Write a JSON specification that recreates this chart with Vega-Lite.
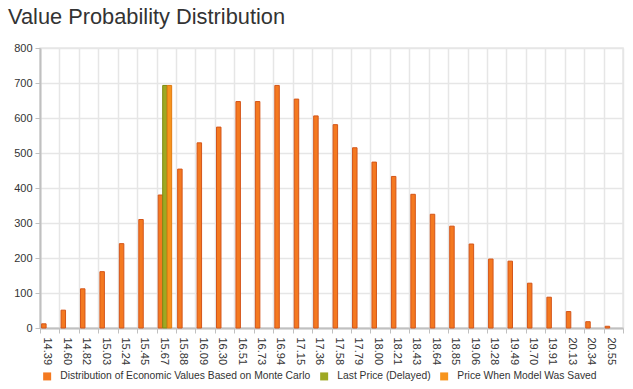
{
  "$schema": "https://vega.github.io/schema/vega-lite/v6.json",
  "autosize": {"type": "none"},
  "width": 583,
  "height": 280,
  "padding": {"left": 40, "top": 48, "right": 10, "bottom": 61},
  "background": "white",
  "title": {
    "text": "Value Probability Distribution",
    "anchor": "start",
    "frame": "group",
    "font": "Liberation Sans",
    "fontSize": 21.8,
    "fontWeight": "normal",
    "color": "#333333",
    "dx": -32,
    "offset": 13
  },
  "config": {
    "view": {"stroke": "#e6e6e6", "strokeWidth": 1.5},
    "font": "Liberation Sans"
  },
  "data": {
    "values": [
      {"price": "14.39", "series": "Distribution of Economic Values Based on Monte Carlo", "value": 12},
      {"price": "14.60", "series": "Distribution of Economic Values Based on Monte Carlo", "value": 51},
      {"price": "14.82", "series": "Distribution of Economic Values Based on Monte Carlo", "value": 112},
      {"price": "15.03", "series": "Distribution of Economic Values Based on Monte Carlo", "value": 161},
      {"price": "15.24", "series": "Distribution of Economic Values Based on Monte Carlo", "value": 241},
      {"price": "15.45", "series": "Distribution of Economic Values Based on Monte Carlo", "value": 310},
      {"price": "15.67", "series": "Distribution of Economic Values Based on Monte Carlo", "value": 380},
      {"price": "15.67", "series": "Last Price (Delayed)", "value": 693},
      {"price": "15.67", "series": "Price When Model Was Saved", "value": 693},
      {"price": "15.88", "series": "Distribution of Economic Values Based on Monte Carlo", "value": 454},
      {"price": "16.09", "series": "Distribution of Economic Values Based on Monte Carlo", "value": 529},
      {"price": "16.30", "series": "Distribution of Economic Values Based on Monte Carlo", "value": 574},
      {"price": "16.51", "series": "Distribution of Economic Values Based on Monte Carlo", "value": 647},
      {"price": "16.73", "series": "Distribution of Economic Values Based on Monte Carlo", "value": 647},
      {"price": "16.94", "series": "Distribution of Economic Values Based on Monte Carlo", "value": 693},
      {"price": "17.15", "series": "Distribution of Economic Values Based on Monte Carlo", "value": 654},
      {"price": "17.36", "series": "Distribution of Economic Values Based on Monte Carlo", "value": 606},
      {"price": "17.58", "series": "Distribution of Economic Values Based on Monte Carlo", "value": 581},
      {"price": "17.79", "series": "Distribution of Economic Values Based on Monte Carlo", "value": 515},
      {"price": "18.00", "series": "Distribution of Economic Values Based on Monte Carlo", "value": 474},
      {"price": "18.21", "series": "Distribution of Economic Values Based on Monte Carlo", "value": 433},
      {"price": "18.43", "series": "Distribution of Economic Values Based on Monte Carlo", "value": 382},
      {"price": "18.64", "series": "Distribution of Economic Values Based on Monte Carlo", "value": 325},
      {"price": "18.85", "series": "Distribution of Economic Values Based on Monte Carlo", "value": 291},
      {"price": "19.06", "series": "Distribution of Economic Values Based on Monte Carlo", "value": 240},
      {"price": "19.28", "series": "Distribution of Economic Values Based on Monte Carlo", "value": 197},
      {"price": "19.49", "series": "Distribution of Economic Values Based on Monte Carlo", "value": 191},
      {"price": "19.70", "series": "Distribution of Economic Values Based on Monte Carlo", "value": 128},
      {"price": "19.91", "series": "Distribution of Economic Values Based on Monte Carlo", "value": 88},
      {"price": "20.13", "series": "Distribution of Economic Values Based on Monte Carlo", "value": 47},
      {"price": "20.34", "series": "Distribution of Economic Values Based on Monte Carlo", "value": 18},
      {"price": "20.55", "series": "Distribution of Economic Values Based on Monte Carlo", "value": 5}
    ]
  },
  "mark": {"type": "bar", "strokeWidth": 1},
  "encoding": {
    "x": {
      "field": "price",
      "type": "nominal",
      "sort": null,
      "scale": {"paddingInner": 0, "paddingOuter": 0},
      "axis": {
        "title": null,
        "labelAngle": 90,
        "labelAlign": "left",
        "labelBaseline": "middle",
        "labelFontSize": 11,
        "labelColor": "#333333",
        "labelPadding": 4,
        "labelOffset": -3,
        "tickBand": "extent",
        "tickColor": "#c0c0c0",
        "tickSize": 5,
        "domainColor": "#c0c0c0",
        "domainWidth": 2,
        "grid": true,
        "gridColor": "#e6e6e6",
        "gridWidth": 1.5
      }
    },
    "xOffset": {
      "field": "series",
      "type": "nominal",
      "scale": {
        "domain": ["Distribution of Economic Values Based on Monte Carlo", "Last Price (Delayed)", "Price When Model Was Saved"],
        "paddingInner": 0,
        "paddingOuter": 0.667,
        "align": 0.27
      }
    },
    "y": {
      "field": "value",
      "type": "quantitative",
      "scale": {"domain": [0, 800]},
      "axis": {
        "title": null,
        "values": [0, 100, 200, 300, 400, 500, 600, 700, 800],
        "labelFontSize": 11,
        "labelColor": "#333333",
        "labelPadding": 3,
        "tickColor": "#c0c0c0",
        "tickSize": 5,
        "domainColor": "#c0c0c0",
        "domainWidth": 2,
        "gridColor": "#e6e6e6",
        "gridWidth": 1.5
      }
    },
    "fill": {
      "field": "series",
      "type": "nominal",
      "scale": {
        "domain": ["Distribution of Economic Values Based on Monte Carlo", "Last Price (Delayed)", "Price When Model Was Saved"],
        "range": ["#f47920", "#9ea823", "#f7941d"]
      },
      "legend": {
        "title": null,
        "orient": "none",
        "direction": "horizontal",
        "legendX": 2,
        "legendY": 323,
        "symbolType": "square",
        "symbolSize": 64,
        "symbolStrokeWidth": 0,
        "labelFontSize": 10.3,
        "labelColor": "#333333",
        "labelOffset": 8,
        "labelLimit": 0,
        "columnPadding": 8
      }
    },
    "stroke": {
      "field": "series",
      "type": "nominal",
      "scale": {
        "domain": ["Distribution of Economic Values Based on Monte Carlo", "Last Price (Delayed)", "Price When Model Was Saved"],
        "range": ["#d4561a", "#7d8a12", "#e07a10"]
      },
      "legend": null
    }
  }
}
